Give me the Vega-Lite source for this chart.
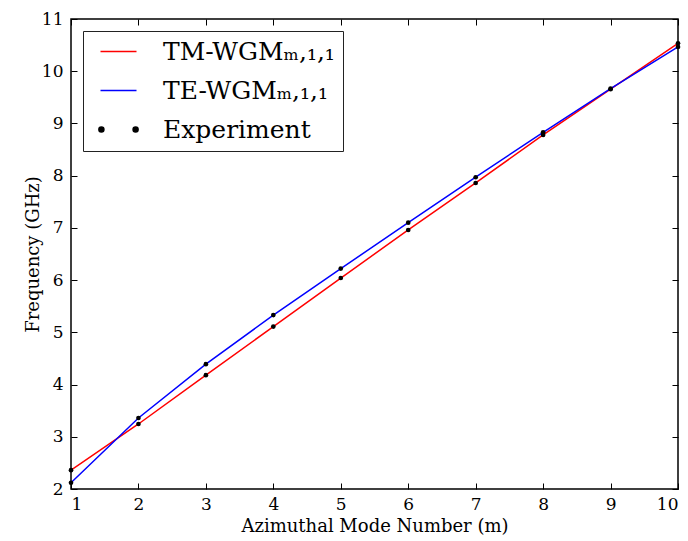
{
  "$schema": "https://vega.github.io/schema/vega-lite/v6.json",
  "width": 607,
  "height": 470,
  "autosize": {"type": "none"},
  "padding": {"left": 71, "top": 19, "right": 10, "bottom": 52},
  "background": "white",
  "datasets": {
    "lines": [
      {"m": 1, "freq": 2.36, "series": "TM-WGMₘ,₁,₁"},
      {"m": 2, "freq": 3.245, "series": "TM-WGMₘ,₁,₁"},
      {"m": 3, "freq": 4.18, "series": "TM-WGMₘ,₁,₁"},
      {"m": 4, "freq": 5.11, "series": "TM-WGMₘ,₁,₁"},
      {"m": 5, "freq": 6.04, "series": "TM-WGMₘ,₁,₁"},
      {"m": 6, "freq": 6.96, "series": "TM-WGMₘ,₁,₁"},
      {"m": 7, "freq": 7.86, "series": "TM-WGMₘ,₁,₁"},
      {"m": 8, "freq": 8.78, "series": "TM-WGMₘ,₁,₁"},
      {"m": 9, "freq": 9.655, "series": "TM-WGMₘ,₁,₁"},
      {"m": 10, "freq": 10.535, "series": "TM-WGMₘ,₁,₁"},
      {"m": 1, "freq": 2.12, "series": "TE-WGMₘ,₁,₁"},
      {"m": 2, "freq": 3.36, "series": "TE-WGMₘ,₁,₁"},
      {"m": 3, "freq": 4.39, "series": "TE-WGMₘ,₁,₁"},
      {"m": 4, "freq": 5.33, "series": "TE-WGMₘ,₁,₁"},
      {"m": 5, "freq": 6.22, "series": "TE-WGMₘ,₁,₁"},
      {"m": 6, "freq": 7.10, "series": "TE-WGMₘ,₁,₁"},
      {"m": 7, "freq": 7.97, "series": "TE-WGMₘ,₁,₁"},
      {"m": 8, "freq": 8.83, "series": "TE-WGMₘ,₁,₁"},
      {"m": 9, "freq": 9.665, "series": "TE-WGMₘ,₁,₁"},
      {"m": 10, "freq": 10.465, "series": "TE-WGMₘ,₁,₁"}
    ],
    "experiment": [
      {"m": 1, "freq": 2.36, "series": "Experiment"},
      {"m": 1, "freq": 2.12, "series": "Experiment"},
      {"m": 2, "freq": 3.245, "series": "Experiment"},
      {"m": 2, "freq": 3.36, "series": "Experiment"},
      {"m": 3, "freq": 4.18, "series": "Experiment"},
      {"m": 3, "freq": 4.39, "series": "Experiment"},
      {"m": 4, "freq": 5.11, "series": "Experiment"},
      {"m": 4, "freq": 5.33, "series": "Experiment"},
      {"m": 5, "freq": 6.04, "series": "Experiment"},
      {"m": 5, "freq": 6.22, "series": "Experiment"},
      {"m": 6, "freq": 6.96, "series": "Experiment"},
      {"m": 6, "freq": 7.10, "series": "Experiment"},
      {"m": 7, "freq": 7.86, "series": "Experiment"},
      {"m": 7, "freq": 7.97, "series": "Experiment"},
      {"m": 8, "freq": 8.78, "series": "Experiment"},
      {"m": 8, "freq": 8.83, "series": "Experiment"},
      {"m": 9, "freq": 9.655, "series": "Experiment"},
      {"m": 9, "freq": 9.665, "series": "Experiment"},
      {"m": 10, "freq": 10.535, "series": "Experiment"},
      {"m": 10, "freq": 10.465, "series": "Experiment"}
    ]
  },
  "config": {
    "view": {"stroke": "black", "strokeWidth": 1.5},
    "font": "DejaVu Serif",
    "axis": {
      "domain": false,
      "grid": false,
      "tickColor": "black",
      "tickWidth": 1,
      "tickSize": -6,
      "labelFont": "DejaVu Serif",
      "labelFontSize": 17,
      "labelColor": "black",
      "titleFont": "DejaVu Serif",
      "titleFontSize": 18,
      "titleFontWeight": "normal",
      "titleColor": "black"
    },
    "legend": {
      "labelFont": "DejaVu Serif",
      "labelFontSize": 25,
      "labelColor": "black"
    }
  },
  "layer": [
    {
      "data": {"name": "lines"},
      "mark": {"type": "line", "strokeWidth": 1.5, "clip": true},
      "encoding": {
        "x": {
          "field": "m", "type": "quantitative",
          "scale": {"domain": [1, 10], "nice": false, "zero": false},
          "axis": {"values": [1,2,3,4,5,6,7,8,9,10], "orient": "bottom", "title": "Azimuthal Mode Number (m)", "labelPadding": 13, "titlePadding": 5}
        },
        "y": {
          "field": "freq", "type": "quantitative",
          "scale": {"domain": [2, 11], "nice": false, "zero": false},
          "axis": {"values": [2,3,4,5,6,7,8,9,10,11], "orient": "left", "title": "Frequency (GHz)", "labelPadding": 14, "titlePadding": -1}
        },
        "color": {
          "field": "series", "type": "nominal",
          "scale": {"domain": ["TM-WGMₘ,₁,₁", "TE-WGMₘ,₁,₁", "Experiment"], "range": ["#ff0000", "#0000ff", "#000000"]},
          "legend": {
            "title": null,
            "orient": "top-left",
            "offset": 12,
            "padding": 8,
            "strokeColor": "#222222",
            "fillColor": "white",
            "symbolSize": 324,
            "symbolOffset": 15,
            "labelOffset": 32,
            "rowPadding": 13,
            "labelLimit": 400,
            "encode": {
              "symbols": {
                "update": {
                  "shape": {"signal": "datum.value === 'Experiment' ? 'M-2.18,0a0.28,0.28 0 1,0 0.56,0a0.28,0.28 0 1,0 -0.56,0ZM1.62,0a0.28,0.28 0 1,0 0.56,0a0.28,0.28 0 1,0 -0.56,0Z' : 'M-2,0L2,0'"},
                  "fill": {"signal": "datum.value === 'Experiment' ? 'black' : 'transparent'"},
                  "stroke": {"signal": "datum.value === 'Experiment' ? 'transparent' : scale('color', datum.value)"},
                  "strokeWidth": {"value": 1.5},
                  "opacity": {"value": 1},
                  "fillOpacity": {"value": 1},
                  "strokeOpacity": {"value": 1}
                }
              }
            }
          }
        }
      }
    },
    {
      "data": {"name": "experiment"},
      "mark": {"type": "point", "filled": true, "size": 22, "opacity": 1, "clip": false},
      "encoding": {
        "x": {
          "field": "m", "type": "quantitative",
          "axis": {"values": [1,2,3,4,5,6,7,8,9,10], "orient": "top", "labels": false, "title": null}
        },
        "y": {
          "field": "freq", "type": "quantitative",
          "axis": {"values": [2,3,4,5,6,7,8,9,10,11], "orient": "right", "labels": false, "title": null}
        },
        "color": {"field": "series", "type": "nominal"}
      }
    }
  ],
  "resolve": {"axis": {"x": "independent", "y": "independent"}}
}
